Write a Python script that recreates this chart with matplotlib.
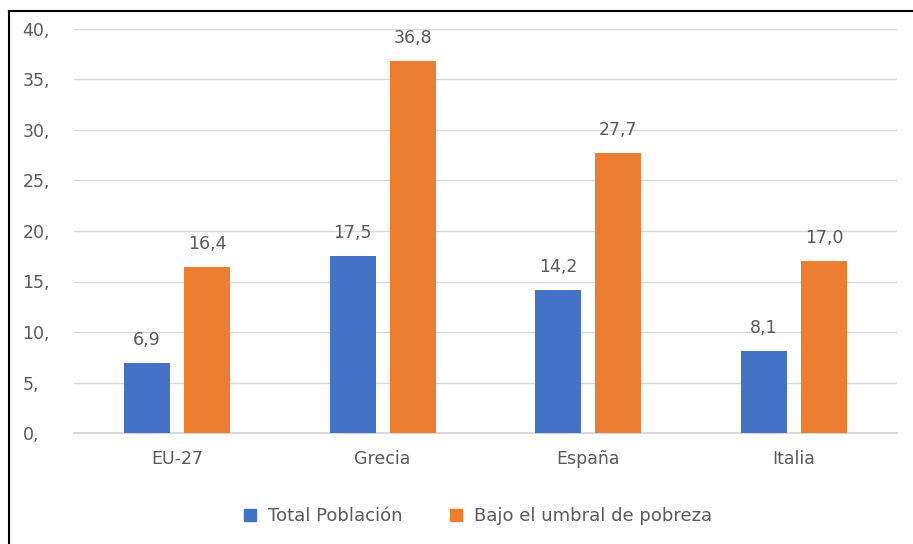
import matplotlib
matplotlib.use("Agg")
import matplotlib.pyplot as plt
import numpy as np
from matplotlib.lines import Line2D

categories = ["EU-27", "Grecia", "España", "Italia"]
total = [6.9, 17.5, 14.2, 8.1]
bajo = [16.4, 36.8, 27.7, 17.0]
series_names = ["Total Población", "Bajo el umbral de pobreza"]
yticks = [0, 5, 10, 15, 20, 25, 30, 35, 40]

plt.rcParams['font.family'] = ['DejaVu Sans']
fig = plt.figure(figsize=(9.13, 5.44), dpi=100)
ax = fig.add_axes([74/913, 1-433/544, (897-74)/913, (433-29)/544])

x = np.arange(len(categories))
w = 0.224
off = 0.146
blue = "#4472C4"
orange = "#ED7D31"
txtc = "#595959"
fs = 12.5
b1 = ax.bar(x - off, total, w, color=blue, label=series_names[0], zorder=3)
b2 = ax.bar(x + off, bajo, w, color=orange, label=series_names[1], zorder=3)

for bars, vals in ((b1, total), (b2, bajo)):
    for r, v in zip(bars, vals):
        ax.annotate(f"{v:.1f}".replace(".", ","), (r.get_x() + r.get_width()/2, v),
                    xytext=(0, 10), textcoords="offset points", ha="center", va="bottom",
                    fontsize=fs, color=txtc)

ax.set_xlim(-0.5, len(categories) - 0.5)
ax.set_ylim(0, 40)
ax.set_yticks(yticks)
ax.set_yticklabels([f"{t}," for t in yticks], fontsize=fs, color=txtc, ha="left")
ax.tick_params(axis='y', length=0, pad=37)
ax.set_xticks(x)
ax.set_xticklabels(categories, fontsize=fs, color=txtc)
ax.tick_params(axis='x', length=0, pad=12)
ax.grid(axis='y', color="#D9D9D9", linewidth=1, zorder=0)
ax.axhline(0, color="#D9D9D9", linewidth=1.5, zorder=2, clip_on=False)
for s in ax.spines.values():
    s.set_visible(False)

handles = [Line2D([], [], marker='s', linestyle='', color=blue, markersize=8),
           Line2D([], [], marker='s', linestyle='', color=orange, markersize=8)]
fig.legend(handles, series_names, loc='center', bbox_to_anchor=(472/913, 1-516/544),
           ncol=2, frameon=False, fontsize=13, handletextpad=0.0, columnspacing=2.0,
           labelcolor=txtc)

# outer border
fig.add_artist(Line2D([8.5/913, 8.5/913], [0, 1-10.5/544], color='black', linewidth=1.5,
                      transform=fig.transFigure))
fig.add_artist(Line2D([8.5/913, 1], [1-10.5/544, 1-10.5/544], color='black', linewidth=1.5,
                      transform=fig.transFigure))

fig.savefig("out.png", dpi=100)
